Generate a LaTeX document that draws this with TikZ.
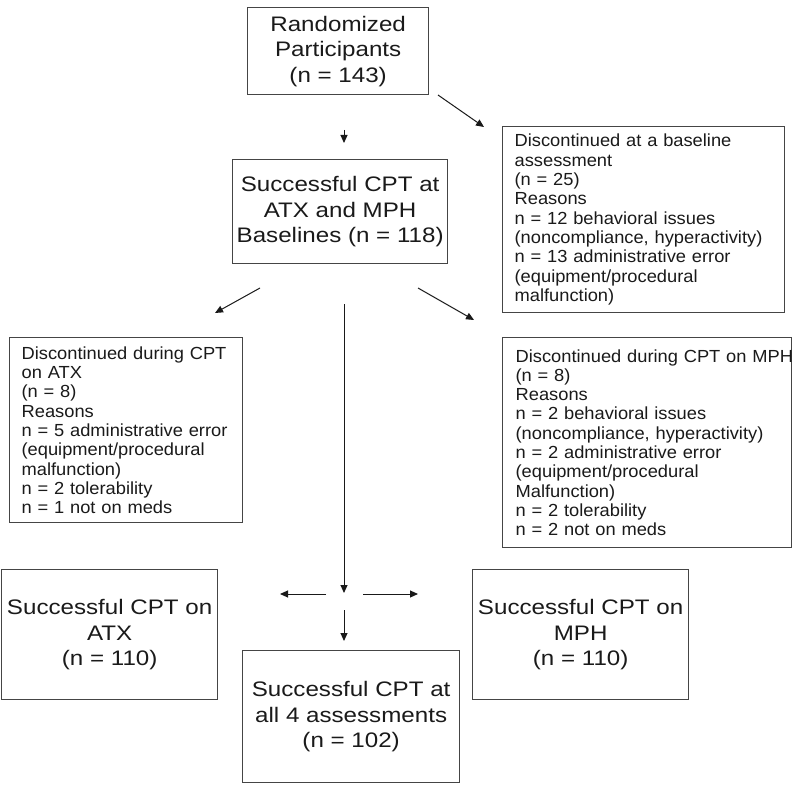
\documentclass[tikz,border=0pt]{standalone}
\usepackage{fontspec}
\setmainfont{Liberation Sans}
\newfontfamily\bigf[FakeStretch=1.15]{Liberation Sans}
\newfontfamily\smallf[FakeStretch=1.045]{Liberation Sans}
\usetikzlibrary{arrows.meta}
\definecolor{boxc}{HTML}{454545}
\definecolor{txtc}{HTML}{1A1A1A}
\begin{document}
\begin{tikzpicture}[x=1pt,y=-1pt,
  bigbox/.style={draw=boxc, line width=1.3pt, anchor=north west, inner sep=0pt,
    align=center, text=txtc, font=\bigf\fontsize{21}{25.5}\selectfont},
  smallbox/.style={draw=boxc, line width=1.3pt, anchor=north west, inner sep=0pt,
    align=left, text=txtc, font=\smallf\fontsize{17.5}{19.3}\selectfont},
  arr/.style={draw=black!90, line width=1pt, -{Triangle[length=8pt,width=7pt]}}]
\useasboundingbox[fill=white] (0,0) rectangle (800,789);

% boxes
\node[bigbox, minimum width=181pt, minimum height=87pt] (rand) at (247,7)
  {Randomized\\Participants\\(n = 143)};
\node[bigbox, minimum width=215pt, minimum height=104pt] (base) at (232,159)
  {Successful CPT at\\ATX and MPH\\Baselines (n = 118)};
\node[smallbox, minimum width=282pt, minimum height=186pt, text width=258pt] (disc1) at (502,126)
  {Discontinued at a baseline\\assessment\\(n = 25)\\Reasons\\n = 12 behavioral issues\\(noncompliance, hyperactivity)\\n = 13 administrative error\\(equipment/procedural\\malfunction)};
\node[smallbox, minimum width=233pt, minimum height=185pt, text width=209pt] (discatx) at (9,337)
  {Discontinued during CPT\\on ATX\\(n = 8)\\Reasons\\n = 5 administrative error\\(equipment/procedural\\malfunction)\\n = 2 tolerability\\n = 1 not on meds};
\node[smallbox, minimum width=289pt, minimum height=210pt, text width=263pt] (discmph) at (502,337)
  {\mbox{Discontinued during CPT on MPH}\\(n = 8)\\Reasons\\n = 2 behavioral issues\\(noncompliance, hyperactivity)\\n = 2 administrative error\\(equipment/procedural\\Malfunction)\\n = 2 tolerability\\n = 2 not on meds};
\node[bigbox, minimum width=216pt, minimum height=130pt] (atx) at (1,569)
  {Successful CPT on\\ATX\\(n = 110)};
\node[bigbox, minimum width=216pt, minimum height=130pt] (mph) at (472,569)
  {Successful CPT on\\MPH\\(n = 110)};
\node[bigbox, minimum width=217pt, minimum height=132pt] (all) at (242,650)
  {Successful CPT at\\all 4 assessments\\(n = 102)};

% connector end points
\coordinate (a1s) at (344,130);
\coordinate (a1e) at (344,143);
\coordinate (a2s) at (438,95);
\coordinate (a2e) at (484,127);
\coordinate (a3s) at (260,288);
\coordinate (a3e) at (215,313);
\coordinate (a4s) at (418,288);
\coordinate (a4e) at (474,320);
\coordinate (a5s) at (344,304);
\coordinate (a5e) at (344,593);
\coordinate (a6s) at (326,594);
\coordinate (a6e) at (280,594);
\coordinate (a7s) at (363,594);
\coordinate (a7e) at (418,594);
\coordinate (a8s) at (344,610);
\coordinate (a8e) at (344,641);

\draw[arr] (a1s) -- (a1e);
\draw[arr] (a2s) -- (a2e);
\draw[arr] (a3s) -- (a3e);
\draw[arr] (a4s) -- (a4e);
\draw[arr] (a5s) -- (a5e);
\draw[arr] (a6s) -- (a6e);
\draw[arr] (a7s) -- (a7e);
\draw[arr] (a8s) -- (a8e);
\end{tikzpicture}
\end{document}
